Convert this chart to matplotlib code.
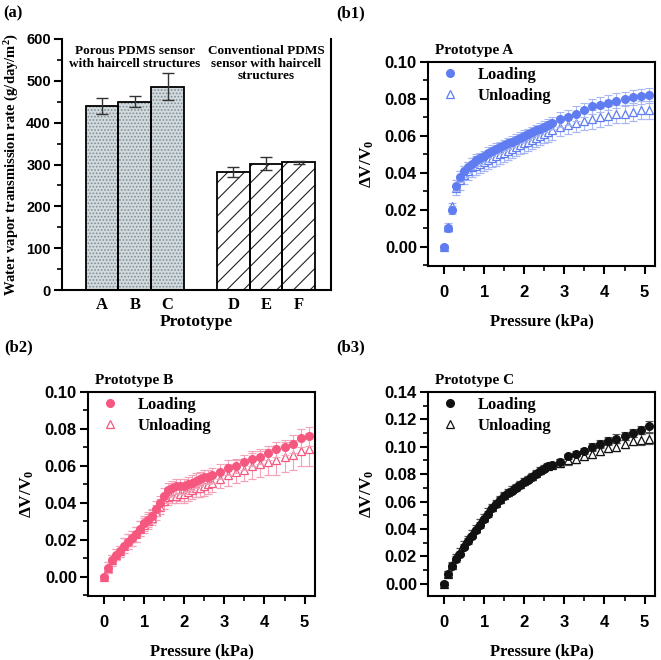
import matplotlib
matplotlib.use("Agg")
import matplotlib.pyplot as plt
from matplotlib.ticker import MultipleLocator, FormatStrFormatter
from matplotlib.lines import Line2D

plt.rcParams['hatch.linewidth'] = 0.8
plt.rcParams['mathtext.fontset'] = 'custom'
plt.rcParams['mathtext.rm'] = 'Liberation Serif:bold'
plt.rcParams['mathtext.bf'] = 'Liberation Serif:bold'
plt.rcParams['mathtext.it'] = 'Liberation Serif:bold'
SERIF = 'Liberation Serif'
SANS = 'Liberation Sans'

# ---------------- data: panel (a) ----------------
protos = ['A', 'B', 'C', 'D', 'E', 'F']
wvtr = [440, 450, 486, 283, 302, 305]
wvtr_err = [20, 13, 32, 12, 16, 4]
group1_text = "Porous PDMS sensor\nwith haircell structures"
group2_text = "Conventional PDMS\nsensor with haircell\nstructures"

# ---------------- data: panels (b) ----------------
pressure = [0.0, 0.1, 0.2, 0.3, 0.4, 0.5, 0.6, 0.7, 0.8, 0.9, 1.0, 1.1, 1.2, 1.3,
            1.4, 1.5, 1.6, 1.7, 1.8, 1.9, 2.0, 2.1, 2.2, 2.3, 2.4, 2.5, 2.6, 2.7,
            2.9, 3.1, 3.3, 3.5, 3.7, 3.9, 4.1, 4.3, 4.5, 4.7, 4.9, 5.1]

a_load = [0.000, 0.010, 0.020, 0.033, 0.038, 0.041, 0.043, 0.045, 0.047, 0.048,
          0.049, 0.051, 0.052, 0.053, 0.054, 0.055, 0.056, 0.057, 0.058, 0.059,
          0.060, 0.061, 0.062, 0.063, 0.064, 0.065, 0.066, 0.067,
          0.069, 0.070, 0.072, 0.074, 0.076, 0.077, 0.078, 0.079, 0.080, 0.081, 0.0815, 0.082]
a_unload = [0.000, 0.011, 0.022, 0.032, 0.036, 0.039, 0.041, 0.043, 0.044, 0.045,
            0.046, 0.047, 0.048, 0.049, 0.050, 0.051, 0.052, 0.053, 0.054, 0.055,
            0.056, 0.057, 0.058, 0.059, 0.060, 0.061, 0.062, 0.063,
            0.065, 0.066, 0.067, 0.068, 0.069, 0.070, 0.071, 0.072, 0.072, 0.073, 0.074, 0.074]
a_load_err = [0.001, 0.002, 0.002, 0.003, 0.003, 0.003, 0.003, 0.003, 0.003, 0.003,
              0.003, 0.003, 0.003, 0.003, 0.003, 0.003, 0.003, 0.003, 0.003, 0.003,
              0.003, 0.003, 0.003, 0.003, 0.003, 0.003, 0.003, 0.003,
              0.004, 0.004, 0.004, 0.004, 0.004, 0.004, 0.004, 0.004, 0.004, 0.004, 0.004, 0.004]
a_unload_err = [0.001, 0.002, 0.002, 0.004, 0.005, 0.005, 0.005, 0.005, 0.005, 0.005,
                0.005, 0.005, 0.005, 0.005, 0.005, 0.005, 0.005, 0.005, 0.005, 0.005,
                0.005, 0.005, 0.005, 0.005, 0.005, 0.005, 0.005, 0.005,
                0.005, 0.005, 0.005, 0.005, 0.005, 0.005, 0.005, 0.005, 0.005, 0.005, 0.005, 0.005]

b_load = [0.000, 0.005, 0.009, 0.012, 0.014, 0.017, 0.019, 0.021, 0.023, 0.026,
          0.029, 0.031, 0.033, 0.037, 0.040, 0.044, 0.047, 0.048, 0.049, 0.049,
          0.049, 0.050, 0.051, 0.052, 0.053, 0.054, 0.054, 0.055,
          0.057, 0.059, 0.060, 0.062, 0.064, 0.065, 0.067, 0.069, 0.070, 0.072, 0.075, 0.076]
b_unload = [0.000, 0.005, 0.009, 0.012, 0.014, 0.017, 0.019, 0.021, 0.023, 0.026,
            0.028, 0.030, 0.032, 0.035, 0.038, 0.041, 0.043, 0.044, 0.044, 0.045,
            0.045, 0.046, 0.047, 0.048, 0.048, 0.049, 0.050, 0.051,
            0.053, 0.055, 0.057, 0.058, 0.060, 0.061, 0.062, 0.063, 0.065, 0.066, 0.068, 0.069]
b_load_err = [0.001, 0.003, 0.003, 0.003, 0.003, 0.004, 0.004, 0.004, 0.004, 0.004,
              0.004, 0.004, 0.004, 0.004, 0.004, 0.004, 0.004, 0.004, 0.004, 0.004,
              0.004, 0.004, 0.004, 0.004, 0.004, 0.004, 0.004, 0.004,
              0.004, 0.004, 0.004, 0.004, 0.004, 0.004, 0.004, 0.004, 0.004, 0.005, 0.005, 0.005]
b_unload_err = [0.001, 0.003, 0.003, 0.003, 0.003, 0.004, 0.004, 0.004, 0.004, 0.004,
                0.004, 0.004, 0.004, 0.004, 0.004, 0.004, 0.004, 0.004, 0.004, 0.004,
                0.005, 0.005, 0.005, 0.005, 0.005, 0.005, 0.005, 0.005,
                0.005, 0.006, 0.006, 0.006, 0.007, 0.007, 0.007, 0.008, 0.008, 0.008, 0.008, 0.009]

c_load = [0.000, 0.007, 0.013, 0.018, 0.022, 0.027, 0.031, 0.035, 0.039, 0.043,
          0.047, 0.051, 0.055, 0.058, 0.061, 0.064, 0.066, 0.068, 0.070, 0.072,
          0.074, 0.076, 0.078, 0.080, 0.082, 0.084, 0.086, 0.087,
          0.089, 0.093, 0.095, 0.097, 0.100, 0.102, 0.104, 0.106, 0.108, 0.110, 0.112, 0.115]
c_unload = [0.000, 0.007, 0.014, 0.020, 0.024, 0.029, 0.033, 0.037, 0.041, 0.045,
            0.049, 0.053, 0.056, 0.059, 0.062, 0.065, 0.067, 0.069, 0.071, 0.073,
            0.075, 0.077, 0.079, 0.081, 0.083, 0.085, 0.086, 0.087,
            0.088, 0.090, 0.091, 0.093, 0.095, 0.097, 0.099, 0.100, 0.102, 0.104, 0.105, 0.106]
c_load_err = [0.001, 0.002, 0.002, 0.002, 0.002, 0.002, 0.002, 0.002, 0.002, 0.002,
              0.002, 0.002, 0.002, 0.002, 0.002, 0.002, 0.002, 0.002, 0.002, 0.002,
              0.002, 0.002, 0.002, 0.002, 0.002, 0.002, 0.002, 0.002,
              0.002, 0.002, 0.002, 0.002, 0.003, 0.003, 0.003, 0.003, 0.003, 0.003, 0.003, 0.004]
c_unload_err = [0.001, 0.002, 0.002, 0.002, 0.002, 0.002, 0.002, 0.002, 0.002, 0.002,
                0.002, 0.002, 0.002, 0.002, 0.002, 0.002, 0.002, 0.002, 0.002, 0.002,
                0.002, 0.002, 0.002, 0.002, 0.002, 0.002, 0.002, 0.002,
                0.003, 0.003, 0.003, 0.003, 0.003, 0.003, 0.003, 0.003, 0.003, 0.003, 0.004, 0.004]

W, H = 661, 660
fig = plt.figure(figsize=(W / 100, H / 100), dpi=100)


def px_axes(l, t, r, b):
    return fig.add_axes([l / W, 1 - b / H, (r - l) / W, (b - t) / H])


def style_ticks(ax, size):
    for sp in ax.spines.values():
        sp.set_linewidth(1.5)
    ax.tick_params(which='major', direction='out', length=6, width=1.5, pad=2)
    ax.tick_params(which='minor', direction='out', length=3.5, width=1.2)
    for lab in ax.get_xticklabels() + ax.get_yticklabels():
        lab.set_fontfamily(SANS)
        lab.set_fontweight('bold')
        lab.set_fontsize(size)


# ---------------- panel (a) ----------------
ax = px_axes(62, 39, 331, 290)
xpos = [1, 2, 3, 5, 6, 7]
grey_idx = [0, 1, 2]
hat_idx = [3, 4, 5]
ax.bar([xpos[i] for i in grey_idx], [wvtr[i] for i in grey_idx], width=1.0,
       facecolor='#d3dadd', edgecolor='#7d8e97', hatch='.....', linewidth=0, zorder=2)
ax.bar([xpos[i] for i in hat_idx], [wvtr[i] for i in hat_idx], width=1.0,
       facecolor='white', edgecolor='#222222', hatch='//', linewidth=0, zorder=2)
ax.bar(xpos, wvtr, width=1.0, facecolor='none', edgecolor='black', linewidth=1.3, zorder=3)
ax.errorbar(xpos, wvtr, yerr=wvtr_err, fmt='none', ecolor='#333333',
            elinewidth=1.0, capsize=4, capthick=1.0, zorder=4)
ax.set_xlim(-0.22, 7.98)
ax.set_ylim(0, 600)
ax.yaxis.set_major_locator(MultipleLocator(100))
ax.yaxis.set_minor_locator(MultipleLocator(50))
ax.set_xticks(xpos)
ax.set_xticklabels(protos)
ax.spines['top'].set_visible(False)
style_ticks(ax, 10.5)
ax.tick_params(axis='x', length=0, pad=5)
for lab in ax.get_xticklabels():
    lab.set_fontfamily(SERIF)
    lab.set_fontsize(12)
ax.set_xlabel('Prototype', fontfamily=SERIF, fontweight='bold', fontsize=12.5, labelpad=1)
ax.set_ylabel('Water vapor transmission rate (g/day/m$^2$)', fontfamily=SERIF,
              fontweight='bold', fontsize=10.5, labelpad=4)
ax.text(2, 585, group1_text, ha='center', va='top', fontfamily=SERIF,
        fontweight='bold', fontsize=9.5, linespacing=1.05)
ax.text(6, 585, group2_text, ha='center', va='top', fontfamily=SERIF,
        fontweight='bold', fontsize=9.5, linespacing=1.05)
fig.text(3 / W, 1 - 13 / H, '(a)', fontfamily=SERIF, fontweight='bold', fontsize=12, va='center')


# ---------------- panels (b) ----------------
def b_panel(box, load, load_err, unload, unload_err, color, ecolor, ylim, ymaj, ymin,
            title, label, label_xy):
    ax = px_axes(*box)
    ax.errorbar(pressure, unload, yerr=unload_err, fmt='^', mfc='white', mec=color,
                mew=0.9, ms=5.5, ecolor=ecolor, elinewidth=0.8, capsize=3, capthick=0.8,
                zorder=2)
    ax.errorbar(pressure, load, yerr=load_err, fmt='o', mfc=color, mec=color,
                ms=5.5, ecolor=ecolor, elinewidth=0.8, capsize=3, capthick=0.8,
                zorder=3)
    ax.set_xlim(-0.4, 5.26)
    ax.set_ylim(*ylim)
    ax.xaxis.set_major_locator(MultipleLocator(1))
    ax.xaxis.set_minor_locator(MultipleLocator(0.5))
    ax.yaxis.set_major_locator(MultipleLocator(ymaj))
    ax.yaxis.set_minor_locator(MultipleLocator(ymin))
    ax.yaxis.set_major_formatter(FormatStrFormatter('%.2f'))
    style_ticks(ax, 12)
    ax.tick_params(axis='x', which='major', pad=8)
    ax.set_xlabel('Pressure (kPa)', fontfamily=SERIF, fontweight='bold', fontsize=12, labelpad=9)
    ax.set_ylabel(r'$\Delta$V/V$_0$', fontfamily=SERIF, fontweight='bold', fontsize=12.5,
                  labelpad=6)
    ax.set_title(title, loc='left', fontfamily=SERIF, fontweight='bold', fontsize=11,
                 pad=6, x=0.03)
    handles = [Line2D([], [], ls='none', marker='o', mfc=color, mec=color, ms=5.5),
               Line2D([], [], ls='none', marker='^', mfc='white', mec=color, mew=0.9, ms=5.5)]
    ax.legend(handles, ['Loading', 'Unloading'], loc='upper left', frameon=False,
              prop={'family': SERIF, 'weight': 'bold', 'size': 12},
              handletextpad=0.9, borderaxespad=0.0, labelspacing=0.3,
              handlelength=1.5, borderpad=0.3, bbox_to_anchor=(0.02, 1.0))
    fig.text(label_xy[0] / W, 1 - label_xy[1] / H, label, fontfamily=SERIF,
             fontweight='bold', fontsize=12, va='center')
    return ax


b_panel((428, 62, 655, 266), a_load, a_load_err, a_unload, a_unload_err,
        '#5f7df0', '#a9b8f5', (-0.0103, 0.10), 0.02, 0.01, 'Prototype A', '(b1)', (336, 13))
b_panel((88, 392, 315, 596), b_load, b_load_err, b_unload, b_unload_err,
        '#f5577f', '#f3a3b8', (-0.0103, 0.10), 0.02, 0.01, 'Prototype B', '(b2)', (4, 347))
b_panel((428, 392, 655, 596), c_load, c_load_err, c_unload, c_unload_err,
        '#111111', '#555555', (-0.009, 0.14), 0.02, 0.01, 'Prototype C', '(b3)', (336, 347))

fig.savefig('out.png', dpi=100)
